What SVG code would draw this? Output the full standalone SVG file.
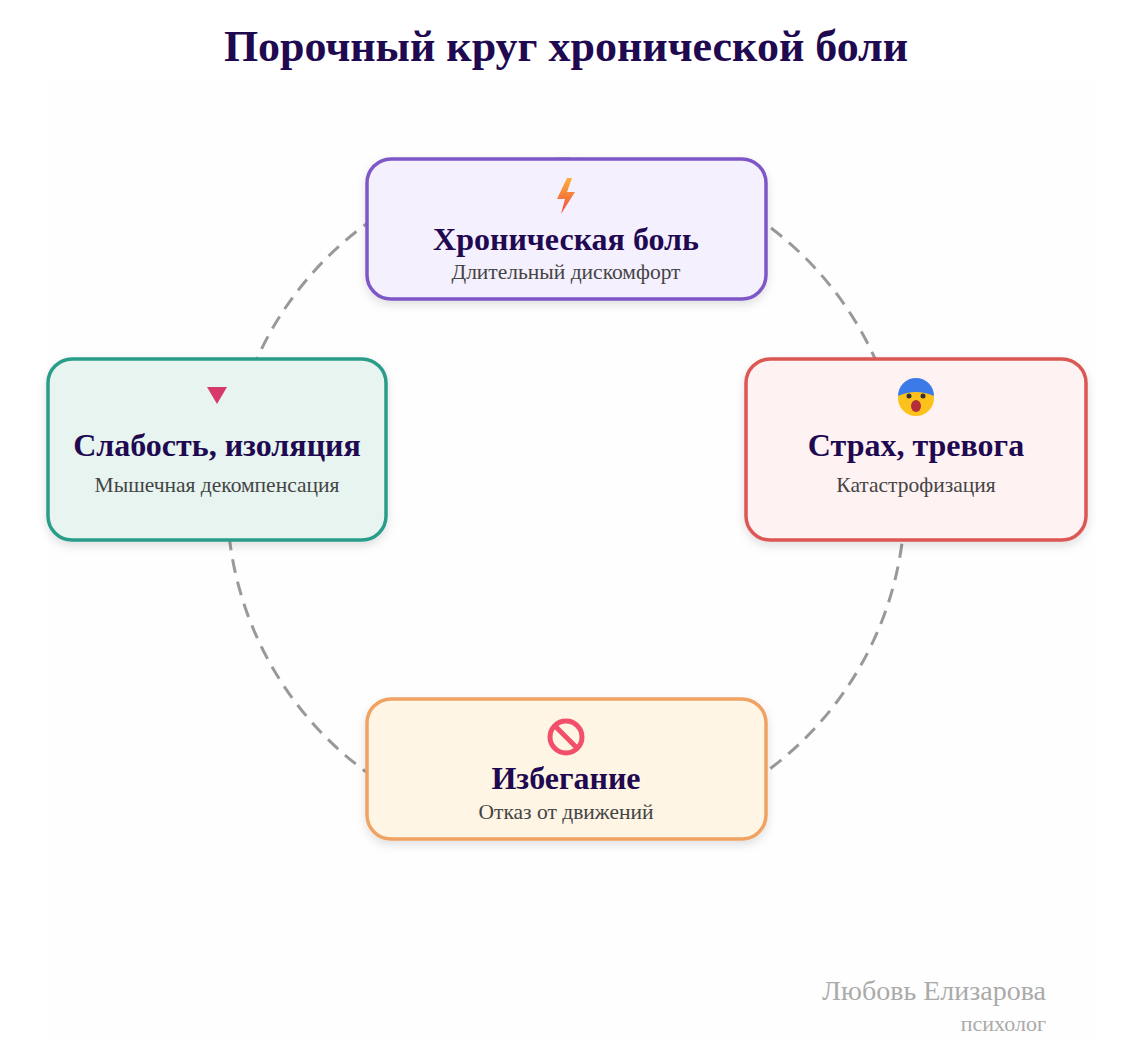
<svg xmlns="http://www.w3.org/2000/svg" width="1144" height="1040" viewBox="0 0 1144 1040">
<defs>
<style>
.t{font-family:"Liberation Serif",serif;font-weight:bold;fill:#1f0950;text-anchor:middle}
.s{font-family:"Liberation Serif",serif;font-size:21.5px;fill:#444;text-anchor:middle}
.box{stroke-width:3.5;filter:url(#sh)}
</style>
<filter id="sh" x="-10%" y="-10%" width="120%" height="130%"><feDropShadow dx="0" dy="4" stdDeviation="5" flood-color="#000" flood-opacity="0.12"/></filter>
<linearGradient id="bolt" x1="0" y1="0" x2="0" y2="1"><stop offset="0" stop-color="#fbb03b"/><stop offset="1" stop-color="#ef4b3a"/></linearGradient>
</defs>
<rect width="1144" height="1040" fill="#fff"/>
<rect x="48" y="80" width="1048" height="960" fill="#fefefe"/>
<text class="t" x="566" y="61" font-size="44">Порочный круг хронической боли</text>
<g id="connectors">
<circle cx="566" cy="498" r="339" fill="none" stroke="#999" stroke-width="3" stroke-dasharray="14 9"/>
</g>
<g id="pain">
<rect class="box" x="367" y="159" width="399" height="140" rx="24" fill="#f5f0fe" stroke="#7e57c8"/>
<polygon points="567,178 557,199 565,199 561,214 575,192 567,192 572,178" fill="url(#bolt)"/>
<text class="t" x="566" y="250" font-size="32">Хроническая боль</text>
<text class="s" x="566" y="279">Длительный дискомфорт</text>
</g>
<g id="fear">
<rect class="box" x="746" y="359" width="340" height="181" rx="24" fill="#fff2f3" stroke="#dc5752"/>
<circle cx="916" cy="398" r="18" fill="#fcc21b"/>
<path d="M898,396 a18,18 0 0 1 36,0 q-18,-8 -36,0z" fill="#3b7be8"/>
<ellipse cx="916" cy="406" rx="5" ry="6" fill="#b32d3a"/>
<circle cx="909" cy="396" r="2.5" fill="#333"/><circle cx="923" cy="396" r="2.5" fill="#333"/>
<text class="t" x="916" y="456" font-size="32">Страх, тревога</text>
<text class="s" x="916" y="492">Катастрофизация</text>
</g>
<g id="avoid">
<rect class="box" x="367" y="699" width="399" height="140" rx="24" fill="#fff5e4" stroke="#f0a262"/>
<circle cx="566" cy="737" r="16" fill="none" stroke="#f2506a" stroke-width="5"/>
<line x1="555" y1="726" x2="577" y2="748" stroke="#f2506a" stroke-width="5"/>
<text class="t" x="566" y="789" font-size="32">Избегание</text>
<text class="s" x="566" y="819">Отказ от движений</text>
</g>
<g id="weak">
<rect class="box" x="48" y="359" width="338" height="181" rx="24" fill="#e7f4f0" stroke="#2a9d8a"/>
<polygon points="207,387 227,387 217,404" fill="#d63a6a"/>
<text class="t" x="217" y="456" font-size="32">Слабость, изоляция</text>
<text class="s" x="217" y="492">Мышечная декомпенсация</text>
</g>
<g id="sign" font-family="Liberation Serif,serif" fill="#aaa" text-anchor="end">
<text x="1046" y="1000" font-size="28">Любовь Елизарова</text>
<text x="1046" y="1031" font-size="22">психолог</text>
</g>
</svg>
